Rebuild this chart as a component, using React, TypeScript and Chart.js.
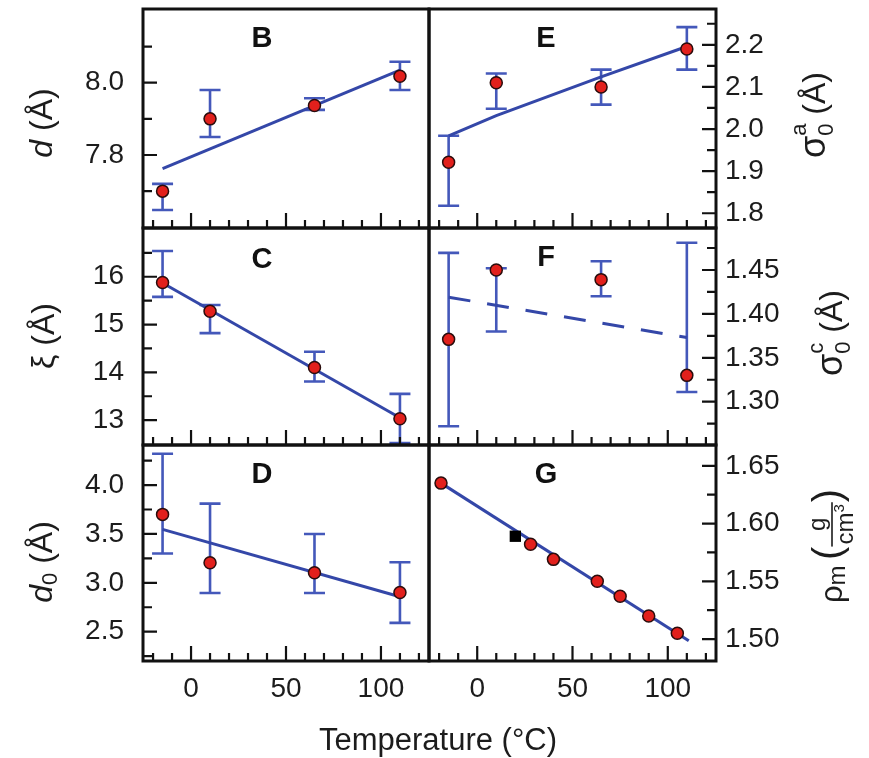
import React, { useEffect, useRef } from 'react';
import { Chart, registerables } from 'chart.js';

Chart.register(...registerables);

// ---------------- data ----------------
const X_TICK_LABELS = [0, 50, 100];
const X_MINOR_TICKS = [-20, -10, 10, 20, 30, 40, 60, 70, 80, 90, 110, 120];
const X_RANGE = [-25.3, 125.3];
const X_TITLE = 'Temperature (°C)';

const TEMPS = [-15, 10, 65, 110];

const B_VALUES = [7.70, 7.90, 7.937, 8.018];
const B_ERR_LOW = [7.648, 7.85, 7.925, 7.98];
const B_ERR_HIGH = [7.72, 7.98, 7.957, 8.058];
const B_FIT_X = [-15, 110];
const B_FIT_Y = [7.762, 8.035];
const B_Y_TICKS = [7.8, 8.0];
const B_Y_MINOR = [7.7, 7.9, 8.1];
const B_Y_RANGE = [7.598, 8.204];

const C_VALUES = [15.88, 15.28, 14.10, 13.03];
const C_ERR_LOW = [15.58, 14.82, 13.81, 12.52];
const C_ERR_HIGH = [16.54, 15.41, 14.43, 13.55];
const C_FIT_X = [-15, 110];
const C_FIT_Y = [15.87, 13.05];
const C_Y_TICKS = [13, 14, 15, 16];
const C_Y_MINOR = [13.5, 14.5, 15.5, 16.5];
const C_Y_RANGE = [12.48, 17.02];

const D_VALUES = [3.70, 3.205, 3.103, 2.90];
const D_ERR_LOW = [3.30, 2.895, 2.895, 2.59];
const D_ERR_HIGH = [4.32, 3.81, 3.50, 3.21];
const D_FIT_X = [-15, 110];
const D_FIT_Y = [3.547, 2.857];
const D_Y_TICKS = [2.5, 3.0, 3.5, 4.0];
const D_Y_MINOR = [2.25, 2.75, 3.25, 3.75, 4.25];
const D_Y_RANGE = [2.2, 4.41];

const E_VALUES = [1.921, 2.11, 2.10, 2.19];
const E_ERR_LOW = [1.818, 2.048, 2.058, 2.141];
const E_ERR_HIGH = [1.984, 2.132, 2.141, 2.242];
const E_FIT_X = [-15, 10, 65, 110];
const E_FIT_Y = [1.984, 2.032, 2.124, 2.196];
const E_Y_TICKS = [1.8, 1.9, 2.0, 2.1, 2.2];
const E_Y_MINOR = [1.85, 1.95, 2.05, 2.15, 2.25];
const E_Y_RANGE = [1.765, 2.285];

const F_VALUES = [1.371, 1.450, 1.439, 1.330];
const F_ERR_LOW = [1.272, 1.380, 1.420, 1.311];
const F_ERR_HIGH = [1.4695, 1.452, 1.460, 1.481];
const F_FIT_X = [-15, 110];
const F_FIT_Y = [1.419, 1.373];
const F_Y_TICKS = [1.30, 1.35, 1.40, 1.45];
const F_Y_MINOR = [1.275, 1.325, 1.375, 1.425, 1.475];
const F_Y_RANGE = [1.2507, 1.4978];

const G_TEMPS = [-19, 28, 40, 63, 75, 90, 105];
const G_VALUES = [1.635, 1.582, 1.569, 1.550, 1.537, 1.520, 1.505];
const G_REF_TEMP = [20];
const G_REF_VALUE = [1.589];
const G_FIT_X = [-19, 111];
const G_FIT_Y = [1.635, 1.4985];
const G_Y_TICKS = [1.50, 1.55, 1.60, 1.65];
const G_Y_MINOR = [1.525, 1.575, 1.625];
const G_Y_RANGE = [1.481, 1.668];

// ---------------- styling / layout ----------------
const FONT = "'Liberation Sans', Arial, Helvetica, sans-serif";
const PAGE_W = 869;
const PAGE_H = 758;
const COLS = [[143, 429], [429, 716]];
const ROWS = [[9, 228], [228, 445], [445, 661]];
const X_AXIS_H = 40;
const TEXT = '#1c1c1c';
const LINE_BLUE = '#3447a8';
const ERR_BLUE = '#4458ba';
const POINT_RED = '#e2201c';
const POINT_EDGE = '#2a0c0c';
const TICK_FONT = 28;

type Run = {
  t?: string; size?: number; style?: string; weight?: string; dy?: number;
  stack?: Run[];
  frac?: { num: Run[]; den: Run[]; numDy: number; denDy: number; lineDy: number };
};

type Panel = {
  letter: string; col: number; row: number;
  xs: number[]; ys: number[]; lo?: number[]; hi?: number[];
  fitX: number[]; fitY: number[]; dashed?: boolean;
  refX?: number[]; refY?: number[];
  yRange: number[]; yTicks: number[]; yMinor: number[]; decimals: number;
  title: Run[]; titleX: number; titleY: number;
  letterDx: number; letterDy: number;
  xTitle?: boolean;
};

const PANELS: Panel[] = [
  {
    letter: 'B', col: 0, row: 0, xs: TEMPS, ys: B_VALUES, lo: B_ERR_LOW, hi: B_ERR_HIGH,
    fitX: B_FIT_X, fitY: B_FIT_Y, yRange: B_Y_RANGE, yTicks: B_Y_TICKS, yMinor: B_Y_MINOR, decimals: 1,
    title: [{ t: 'd', style: 'italic', size: 32 }, { t: ' (Å)', size: 32 }], titleX: 52, titleY: 123,
    letterDx: 119, letterDy: 30,
  },
  {
    letter: 'C', col: 0, row: 1, xs: TEMPS, ys: C_VALUES, lo: C_ERR_LOW, hi: C_ERR_HIGH,
    fitX: C_FIT_X, fitY: C_FIT_Y, yRange: C_Y_RANGE, yTicks: C_Y_TICKS, yMinor: C_Y_MINOR, decimals: 0,
    title: [{ t: 'ξ (Å)', size: 32 }], titleX: 54, titleY: 336,
    letterDx: 119, letterDy: 32,
  },
  {
    letter: 'D', col: 0, row: 2, xs: TEMPS, ys: D_VALUES, lo: D_ERR_LOW, hi: D_ERR_HIGH,
    fitX: D_FIT_X, fitY: D_FIT_Y, yRange: D_Y_RANGE, yTicks: D_Y_TICKS, yMinor: D_Y_MINOR, decimals: 1,
    title: [{ t: 'd', style: 'italic', size: 32 }, { t: '0', size: 22, dy: 5 }, { t: ' (Å)', size: 32 }],
    titleX: 52, titleY: 562, letterDx: 119, letterDy: 30, xTitle: true,
  },
  {
    letter: 'E', col: 1, row: 0, xs: TEMPS, ys: E_VALUES, lo: E_ERR_LOW, hi: E_ERR_HIGH,
    fitX: E_FIT_X, fitY: E_FIT_Y, yRange: E_Y_RANGE, yTicks: E_Y_TICKS, yMinor: E_Y_MINOR, decimals: 1,
    title: [
      { t: 'σ', size: 36 },
      { stack: [{ t: '0', size: 22, dy: 8 }, { t: 'a', size: 22, dy: -19 }] },
      { t: ' (Å)', size: 32 },
    ],
    titleX: 825, titleY: 115, letterDx: 117, letterDy: 30,
  },
  {
    letter: 'F', col: 1, row: 1, xs: TEMPS, ys: F_VALUES, lo: F_ERR_LOW, hi: F_ERR_HIGH,
    fitX: F_FIT_X, fitY: F_FIT_Y, dashed: true, yRange: F_Y_RANGE, yTicks: F_Y_TICKS, yMinor: F_Y_MINOR, decimals: 2,
    title: [
      { t: 'σ', size: 36 },
      { stack: [{ t: '0', size: 22, dy: 8 }, { t: 'c', size: 22, dy: -19 }] },
      { t: ' (Å)', size: 32 },
    ],
    titleX: 842, titleY: 333, letterDx: 117, letterDy: 30,
  },
  {
    letter: 'G', col: 1, row: 2, xs: G_TEMPS, ys: G_VALUES,
    fitX: G_FIT_X, fitY: G_FIT_Y, refX: G_REF_TEMP, refY: G_REF_VALUE,
    yRange: G_Y_RANGE, yTicks: G_Y_TICKS, yMinor: G_Y_MINOR, decimals: 2,
    title: [
      { t: 'ρ', size: 31 },
      { t: 'm', size: 24, dy: 3 },
      { t: ' ', size: 20 },
      { t: '(', size: 40, dy: -1 },
      {
        frac: {
          num: [{ t: 'g', size: 24 }],
          den: [{ t: 'cm', size: 24 }, { t: '3', size: 15, dy: -9 }],
          numDy: -17, denDy: 11, lineDy: -10,
        },
      },
      { t: ')', size: 40, dy: -1 },
    ],
    titleX: 842, titleY: 546, letterDx: 117, letterDy: 30,
  },
];

// ---------------- rich text helpers ----------------
function fontOf(r: Run) {
  return `${r.style ?? 'normal'} ${r.weight ?? 'normal'} ${r.size ?? 32}px ${FONT}`;
}
function runsWidth(ctx: CanvasRenderingContext2D, runs: Run[]): number {
  return runs.reduce((s, r) => s + runWidth(ctx, r), 0);
}
function runWidth(ctx: CanvasRenderingContext2D, r: Run): number {
  if (r.stack) return Math.max(...r.stack.map((s) => runWidth(ctx, s)));
  if (r.frac) return Math.max(runsWidth(ctx, r.frac.num), runsWidth(ctx, r.frac.den)) + 4;
  ctx.font = fontOf(r);
  return ctx.measureText(r.t ?? '').width;
}
function drawRuns(ctx: CanvasRenderingContext2D, runs: Run[], x: number, y: number) {
  let cx = x;
  for (const r of runs) {
    const w = runWidth(ctx, r);
    if (r.stack) {
      r.stack.forEach((s) => drawRuns(ctx, [s], cx, y));
    } else if (r.frac) {
      const f = r.frac;
      const nw = runsWidth(ctx, f.num);
      const dw = runsWidth(ctx, f.den);
      drawRuns(ctx, f.num, cx + (w - nw) / 2, y + f.numDy);
      drawRuns(ctx, f.den, cx + (w - dw) / 2, y + f.denDy);
      ctx.fillRect(cx, y + f.lineDy - 0.8, w, 1.6);
    } else {
      ctx.font = fontOf(r);
      ctx.fillText(r.t ?? '', cx, y + (r.dy ?? 0));
    }
    cx += w;
  }
}
function drawVertical(ctx: CanvasRenderingContext2D, runs: Run[], baselineX: number, centerY: number) {
  ctx.save();
  ctx.translate(baselineX, centerY);
  ctx.rotate(-Math.PI / 2);
  ctx.textAlign = 'left';
  ctx.textBaseline = 'alphabetic';
  ctx.fillStyle = TEXT;
  const w = runsWidth(ctx, runs);
  drawRuns(ctx, runs, -w / 2, 0);
  ctx.restore();
}

// ---------------- plugin ----------------
function panelPlugin(p: Panel) {
  return {
    id: 'panel' + p.letter,
    beforeDatasetsDraw(chart: any) {
      if (!p.lo || !p.hi) return;
      const { ctx, scales } = chart;
      const xs = scales.x;
      const ys = scales.y;
      ctx.save();
      ctx.strokeStyle = ERR_BLUE;
      ctx.lineWidth = 2.6;
      ctx.beginPath();
      p.xs.forEach((xv, i) => {
        const px = xs.getPixelForValue(xv);
        const y1 = ys.getPixelForValue(p.lo![i]);
        const y2 = ys.getPixelForValue(p.hi![i]);
        ctx.moveTo(px, y1);
        ctx.lineTo(px, y2);
        ctx.moveTo(px - 10.5, y1);
        ctx.lineTo(px + 10.5, y1);
        ctx.moveTo(px - 10.5, y2);
        ctx.lineTo(px + 10.5, y2);
      });
      ctx.stroke();
      ctx.restore();
    },
    afterDraw(chart: any) {
      const { ctx, chartArea: a, scales } = chart;
      const xs = scales.x;
      const ys = scales.y;
      ctx.save();
      ctx.strokeStyle = '#111';
      ctx.lineWidth = 2.2;
      ctx.beginPath();
      X_TICK_LABELS.forEach((v) => {
        const px = xs.getPixelForValue(v);
        ctx.moveTo(px, a.bottom);
        ctx.lineTo(px, a.bottom - 15);
      });
      X_MINOR_TICKS.forEach((v) => {
        const px = xs.getPixelForValue(v);
        ctx.moveTo(px, a.bottom);
        ctx.lineTo(px, a.bottom - 8);
      });
      const edge = p.col === 0 ? a.left : a.right;
      const dir = p.col === 0 ? 1 : -1;
      p.yTicks.forEach((v) => {
        const py = ys.getPixelForValue(v);
        ctx.moveTo(edge, py);
        ctx.lineTo(edge + dir * 14, py);
      });
      p.yMinor.forEach((v) => {
        const py = ys.getPixelForValue(v);
        ctx.moveTo(edge, py);
        ctx.lineTo(edge + dir * 9, py);
      });
      ctx.stroke();

      ctx.lineWidth = 3;
      ctx.strokeStyle = '#111';
      ctx.strokeRect(a.left, a.top, a.right - a.left, a.bottom - a.top);

      ctx.fillStyle = '#111';
      ctx.font = `bold 29px ${FONT}`;
      ctx.textAlign = 'center';
      ctx.textBaseline = 'middle';
      ctx.fillText(p.letter, a.left + p.letterDx, a.top + p.letterDy);

      drawVertical(ctx, p.title, p.titleX, p.titleY);

      if (p.xTitle) {
        ctx.fillStyle = TEXT;
        ctx.font = `normal 31px ${FONT}`;
        ctx.textAlign = 'center';
        ctx.textBaseline = 'alphabetic';
        ctx.fillText(X_TITLE, 438, 750);
      }
      ctx.restore();
    },
  };
}

function makeConfig(p: Panel): any {
  const [L, R] = COLS[p.col];
  const [T, B] = ROWS[p.row];
  const isLeft = p.col === 0;
  const bottomRow = p.row === 2;

  const datasets: any[] = [
    {
      label: p.letter + ' data',
      data: p.xs.map((x, i) => ({ x, y: p.ys[i] })),
      showLine: false,
      pointStyle: 'circle',
      pointRadius: 6,
      pointBackgroundColor: POINT_RED,
      pointBorderColor: POINT_EDGE,
      pointBorderWidth: 1.5,
      order: 0,
    },
    {
      label: p.letter + ' fit',
      data: p.fitX.map((x, i) => ({ x, y: p.fitY[i] })),
      showLine: true,
      pointRadius: 0,
      borderColor: LINE_BLUE,
      borderWidth: 3,
      borderDash: p.dashed ? [22, 17] : [],
      fill: false,
      order: 2,
    },
  ];
  if (p.refX && p.refY) {
    datasets.push({
      label: p.letter + ' reference',
      data: p.refX.map((x, i) => ({ x, y: p.refY![i] })),
      showLine: false,
      pointStyle: 'rect',
      pointRadius: 8,
      pointBackgroundColor: '#000',
      pointBorderColor: '#000',
      pointBorderWidth: 0,
      order: 1,
    });
  }

  const zeroPad = (s: any) => {
    s.paddingLeft = 0;
    s.paddingRight = 0;
    s.paddingTop = 0;
    s.paddingBottom = 0;
  };

  return {
    type: 'scatter',
    data: { datasets },
    options: {
      responsive: false,
      animation: false,
      devicePixelRatio: 1,
      events: [],
      layout: {
        autoPadding: false,
        padding: {
          left: isLeft ? 0 : L,
          right: isLeft ? PAGE_W - R : 0,
          top: T,
          bottom: PAGE_H - B - X_AXIS_H,
        },
      },
      plugins: {
        legend: { display: false },
        tooltip: { enabled: false },
        title: { display: false },
      },
      scales: {
        x: {
          type: 'linear',
          position: 'bottom',
          min: X_RANGE[0],
          max: X_RANGE[1],
          afterBuildTicks: (s: any) => {
            s.ticks = X_TICK_LABELS.map((v) => ({ value: v }));
          },
          afterFit: (s: any) => {
            s.height = X_AXIS_H;
            zeroPad(s);
          },
          ticks: {
            display: bottomRow,
            autoSkip: false,
            maxRotation: 0,
            padding: 11,
            color: TEXT,
            font: { family: FONT, size: TICK_FONT },
            callback: (v: any) => String(v),
          },
          grid: { display: false, drawTicks: false },
          border: { display: false },
        },
        y: {
          type: 'linear',
          position: isLeft ? 'left' : 'right',
          min: p.yRange[0],
          max: p.yRange[1],
          afterBuildTicks: (s: any) => {
            s.ticks = p.yTicks.map((v) => ({ value: v }));
          },
          afterFit: (s: any) => {
            s.width = isLeft ? L : PAGE_W - R;
            zeroPad(s);
          },
          ticks: {
            autoSkip: false,
            padding: isLeft ? 19 : 9,
            color: TEXT,
            font: { family: FONT, size: TICK_FONT },
            callback: (v: any) => Number(v).toFixed(p.decimals),
          },
          grid: { display: false, drawTicks: false },
          border: { display: false },
        },
      },
    },
    plugins: [panelPlugin(p)],
  };
}

export default function App() {
  const refs = useRef<(HTMLCanvasElement | null)[]>([]);
  useEffect(() => {
    const charts = PANELS.map((p, i) => new Chart(refs.current[i] as HTMLCanvasElement, makeConfig(p)));
    return () => charts.forEach((c) => c.destroy());
  }, []);
  return (
    <div style={{ position: 'absolute', left: 0, top: 0, width: PAGE_W, height: PAGE_H, background: '#fff' }}>
      {PANELS.map((p, i) => (
        <canvas
          key={p.letter}
          ref={(el) => {
            refs.current[i] = el;
          }}
          width={PAGE_W}
          height={PAGE_H}
          style={{ position: 'absolute', left: 0, top: 0 }}
        />
      ))}
    </div>
  );
}
